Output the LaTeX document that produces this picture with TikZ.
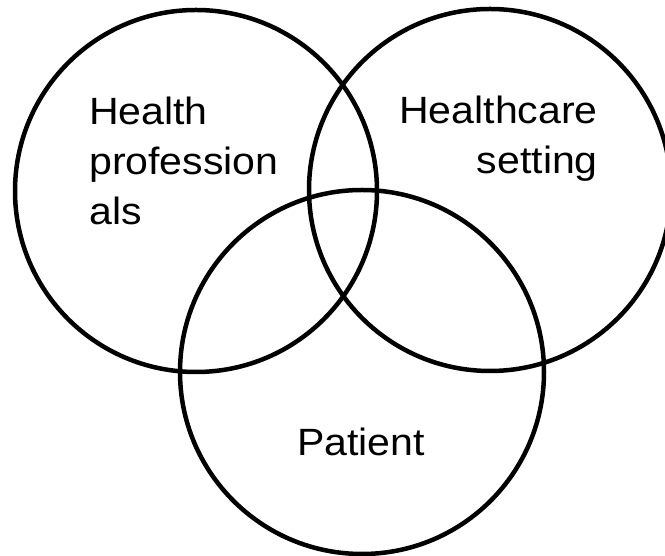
\documentclass[tikz,border=0pt]{standalone}
\usepackage{fontspec}
\setmainfont{Liberation Sans}
\newcommand{\wideline}[1]{\scalebox{1.08}[1]{#1}}
\begin{document}
\begin{tikzpicture}[x=1pt,y=1pt,
  setcircle/.style={draw=black,line width=4.5pt},
  setlabel/.style={inner sep=0pt,font=\fontsize{38}{50}\selectfont}]
\useasboundingbox (0,0) rectangle (665,556);
% the three overlapping sets
\node[setcircle,circle,minimum size=362pt,inner sep=0pt] (prof) at (196,365) {};
\node[setcircle,circle,minimum size=362pt,inner sep=0pt] (setting) at (490,366) {};
\node[setcircle,circle,minimum size=364pt,inner sep=0pt] (patient) at (362,184) {};
% set names (base anchor sits on the last line)
\node[setlabel,align=left,anchor=base west] (proftext) at (89,331)
  {\wideline{Health}\\\wideline{profession}\\\wideline{als}};
\node[setlabel,align=right,anchor=base east] (settingtext) at (598,382)
  {\wideline{Healthcare}\\\wideline{setting}};
\node[setlabel,anchor=base west] (patienttext) at (297,100) {\wideline{Patient}};
\end{tikzpicture}
\end{document}
